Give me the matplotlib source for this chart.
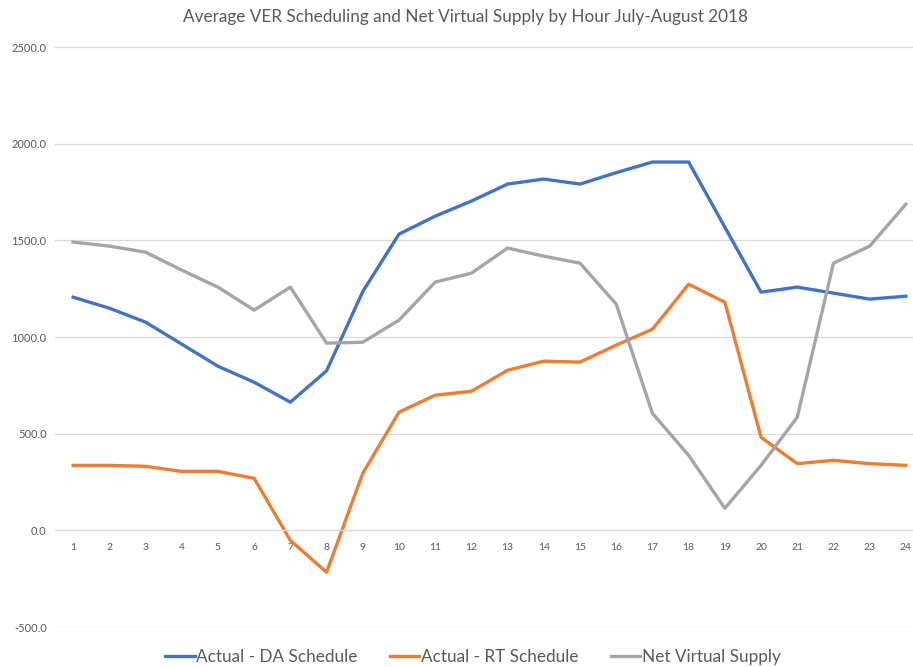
import matplotlib.pyplot as plt

plt.rcParams['font.family'] = ['Lato', 'DejaVu Sans']

hours = list(range(1, 25))

# values
da_schedule = [1206, 1149, 1077, 963, 849, 766, 663, 825, 1235, 1532, 1625, 1703,
               1791, 1817, 1791, 1850, 1905, 1905, 1568, 1232, 1258, 1227, 1196, 1211]
rt_schedule = [336, 336, 331, 305, 305, 269, -52, -217, 295, 611, 699, 719,
               828, 875, 870, 958, 1040, 1273, 1180, 481, 345, 362, 345, 336]
net_virtual = [1491, 1470, 1439, 1346, 1258, 1139, 1258, 968, 973, 1087, 1284, 1330,
               1460, 1418, 1382, 1170, 605, 388, 114, 336, 585, 1382, 1470, 1687]

y_ticks = [-500, 0, 500, 1000, 1500, 2000, 2500]

fig = plt.figure(figsize=(9.13, 6.67), dpi=100)
ax = fig.add_axes([55 / 913, 40 / 667, 869 / 913, 580 / 667])

ax.plot(hours, da_schedule, color='#4472C4', lw=2.4, label='Actual - DA Schedule')
ax.plot(hours, rt_schedule, color='#ED7D31', lw=2.4, label='Actual - RT Schedule')
ax.plot(hours, net_virtual, color='#A5A5A5', lw=2.4, label='Net Virtual Supply')

ax.set_xlim(0.5, 24.5)
ax.set_ylim(-500, 2500)
ax.set_yticks(y_ticks)
ax.set_yticklabels([f'{v:.1f}' for v in y_ticks])
ax.yaxis.grid(True, color='#D9D9D9', lw=0.9)
ax.set_axisbelow(True)

for s in ['top', 'right', 'left']:
    ax.spines[s].set_visible(False)
ax.spines['bottom'].set_position(('data', 0))
ax.spines['bottom'].set_color('#D9D9D9')
ax.spines['bottom'].set_linewidth(0.9)

ax.set_xticks(hours)
ax.tick_params(axis='x', length=0, pad=9, labelsize=7.5, labelcolor='#595959')
ax.tick_params(axis='y', length=0, pad=6, labelsize=8, labelcolor='#595959')

fig.text(0.51, 0.974, 'Average VER Scheduling and Net Virtual Supply by Hour July-August 2018',
         ha='center', va='center', fontsize=12.3, color='#595959')

fig.legend(loc='center', bbox_to_anchor=(0.518, 0.015), ncol=3, frameon=False,
           fontsize=12.3, handlelength=1.7, handletextpad=0.1, columnspacing=1.9,
           labelcolor='#595959')

fig.savefig('out.png', dpi=100)
